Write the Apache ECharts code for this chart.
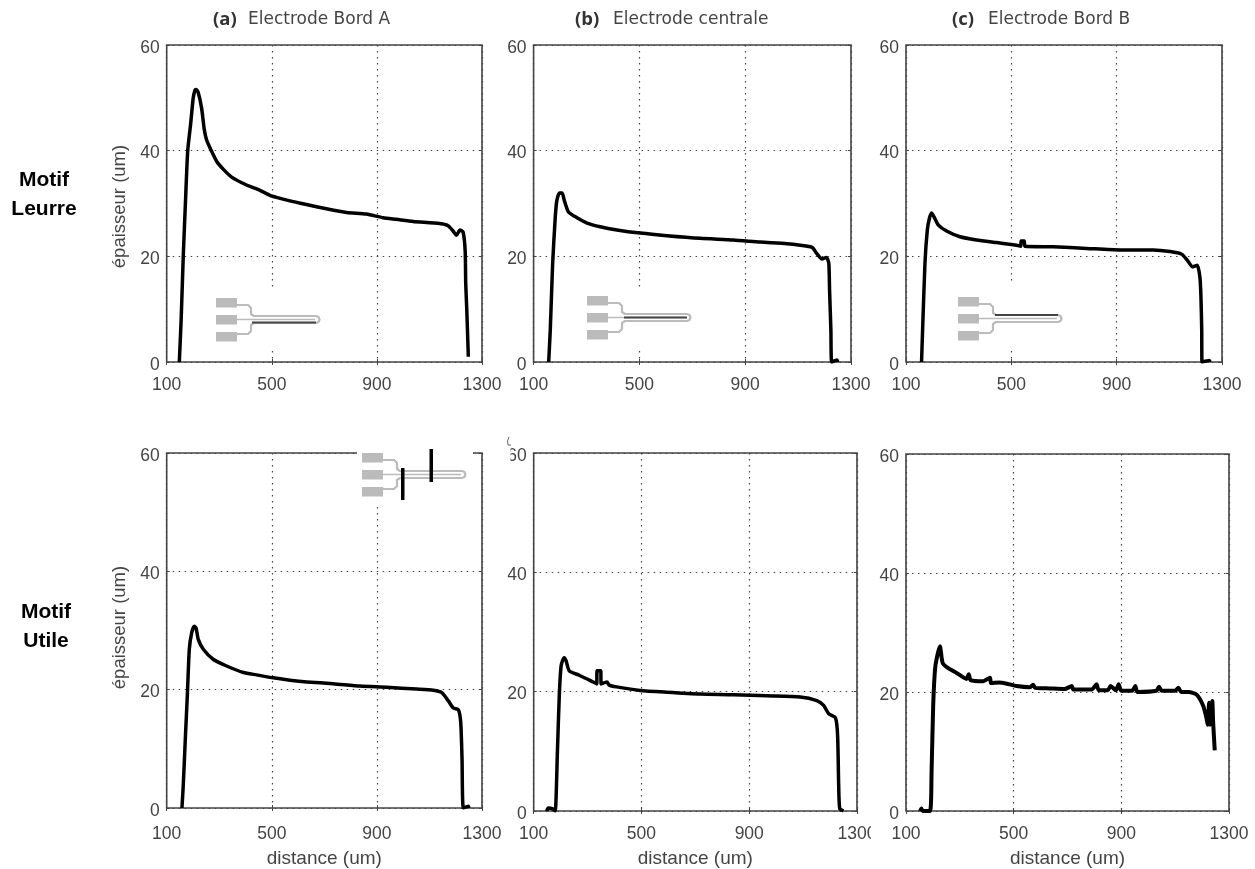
<!DOCTYPE html>
<html><head><meta charset="utf-8">
<style>html,body{margin:0;padding:0;background:#fff}#c{width:1255px;height:869px}</style>
<script src="https://cdn.jsdelivr.net/npm/echarts@6/dist/echarts.min.js"></script>
</head><body><div id="c"></div>
<script>
var xTicks = [100, 500, 900, 1300];
var yTicks = [0, 20, 40, 60];
var xLabel = 'distance (um)';
var yLabel = 'épaisseur (um)';
var columnTags = ['(a)', '(b)', '(c)'];
var columnNames = ['Electrode Bord A', 'Electrode centrale', 'Electrode Bord B'];
var rowNames = [['Motif', 'Leurre'], ['Motif', 'Utile']];

var leurreA = [[148,0],[155,8],[163,20],[172,31],[180,40],[191,45],[201,50],[208,51.5],[212,51.6],[220,51],[233,48],[243,44],[252,42],[265,40.5],[290,38],[315,36.5],[347,35],[404,33.5],[455,32.5],[495,31.5],[569,30.5],[632,29.8],[708,29],[785,28.3],[860,28],[924,27.3],[974,27],[1038,26.6],[1139,26.2],[1171,25.8],[1190,24.8],[1203,24],[1216,25],[1228,24.6],[1236,21],[1238,15],[1242,10],[1246,4],[1248,1]];
var leurreB = [[157,0],[163,6],[172,18.6],[182,27.5],[188,30.6],[198,32],[208,32],[216,30.6],[232,28.4],[264,27.3],[302,26.3],[352,25.6],[415,25],[503,24.4],[604,23.9],[730,23.4],[856,23.1],[957,22.7],[1058,22.4],[1108,22.1],[1153,21.7],[1171,20.5],[1190,19.5],[1207,19.8],[1216,18.7],[1219,13.6],[1224,6],[1227,0],[1247,0.4],[1250,0]];
var leurreC = [[159,0],[163,6],[172,18.7],[181,25],[189,27.2],[197,28.2],[206,27.5],[223,25.9],[254,24.8],[305,23.7],[368,23.1],[444,22.6],[520,22.1],[536,21.9],[537,22.9],[549,22.9],[552,21.9],[659,21.8],[786,21.5],[913,21.2],[1039,21.2],[1103,20.9],[1147,20.4],[1166,19.4],[1189,18],[1206,18.3],[1216,16.1],[1220,12.4],[1223,6],[1224,0],[1252,0.3],[1255,0]];
var utileA = [[158,0],[163,3.8],[172,12.8],[179,19.5],[186,26.8],[195,29.6],[205,30.7],[212,30.4],[220,28.5],[240,26.8],[278,25.1],[328,24],[392,22.9],[442,22.5],[506,22],[569,21.6],[633,21.3],[734,21],[836,20.6],[937,20.4],[1051,20.1],[1115,19.9],[1147,19.5],[1172,18.1],[1191,16.9],[1210,16.6],[1219,14.5],[1224,8.3],[1229,0],[1248,0.3],[1250,0]];
var utileB = [[148,0],[154,0.5],[173,0.3],[180,0],[188,9.9],[195,19.4],[202,24.4],[213,25.7],[220,25.2],[232,23.5],[266,22.8],[309,21.9],[334,21.3],[335,23.5],[349,23.5],[350,21.3],[372,21.6],[380,21.1],[408,20.8],[495,20.2],[594,19.9],[718,19.6],[842,19.5],[966,19.3],[1089,19.1],[1151,18.5],[1176,17.7],[1195,16.3],[1220,15.6],[1228,12.7],[1232,4.3],[1236,0.4],[1250,0]];
var utileC = [[152,0],[157,0.4],[162,0],[189,0],[195,6.6],[201,17.7],[209,24.3],[226,27.7],[236,24.9],[257,24],[288,23.2],[325,22.2],[333,23],[340,22],[387,21.8],[412,22.4],[416,21.5],[449,21.6],[511,21],[560,20.8],[572,21.2],[580,20.7],[634,20.6],[690,20.5],[716,21],[722,20.4],[790,20.4],[808,21.3],[816,20.3],[850,20.3],[860,21],[880,20.3],[890,21.3],[900,20.2],[940,20.2],[952,21],[960,20],[1030,20.2],[1040,20.9],[1050,20.2],[1100,20.2],[1112,20.7],[1122,20],[1150,20],[1179,19.6],[1204,17.7],[1216,15.7],[1221,14.5],[1226,18.2],[1230,14.5],[1238,18.5],[1241,15],[1247,10.2]];

var seriesData = [leurreA, leurreB, leurreC, utileA, utileB, utileC];
var boxes = [[166.7,45,482,362],[533.6,45,851,362],[906,45,1222,362],[166.7,453,482,809.5],[533.7,453,857,813],[906,454,1229,813]];
var ink = '#444', font = 'Liberation Sans', tickSize = 17.5;

var grid=[], xAxis=[], yAxis=[], series=[], g=[];
boxes.forEach(function(b,i){
  grid.push({show:true,left:b[0],top:b[1],width:b[2]-b[0],height:b[3]-b[1],borderColor:'#444',borderWidth:1.6,backgroundColor:'#fff'});
  var splitStyle={show:true,lineStyle:{color:'#444',width:1.2,type:[1.5,4.5]}};
  xAxis.push({gridIndex:i,type:'value',min:xTicks[0],max:xTicks[3],interval:400,position:'bottom',
    axisLine:{show:false},axisTick:{show:true,inside:true,length:3,lineStyle:{color:'#444'}},splitLine:splitStyle,
    axisLabel:{color:ink,fontFamily:font,fontSize:tickSize,margin:i===3?17:14,hideOverlap:false,formatter:function(v){return String(v);}},
    name:i>=3?xLabel:'',nameLocation:'middle',nameGap:i===3?41:38,nameTextStyle:{color:ink,fontFamily:font,fontSize:19}});
  xAxis.push({gridIndex:i,type:'value',min:xTicks[0],max:xTicks[3],interval:400,position:'top',
    axisLine:{show:false},axisTick:{show:true,inside:true,length:3,lineStyle:{color:'#444'}},splitLine:{show:false},axisLabel:{show:false}});
  var hasY=(i%3===0);
  yAxis.push({gridIndex:i,type:'value',min:yTicks[0],max:yTicks[3],interval:20,position:'left',
    axisLine:{show:false},axisTick:{show:true,inside:true,length:3,lineStyle:{color:'#444'}},splitLine:splitStyle,
    axisLabel:{color:ink,fontFamily:font,fontSize:tickSize,margin:7,hideOverlap:false,verticalAlign:'top',lineHeight:6},
    name:hasY?yLabel:'',nameLocation:'middle',nameGap:hasY?37:0,nameTextStyle:{color:ink,fontFamily:font,fontSize:18.5,padding:i===0?[0,6,0,0]:[0,0,0,6]}});
  yAxis.push({gridIndex:i,type:'value',min:yTicks[0],max:yTicks[3],interval:20,position:'right',
    axisLine:{show:false},axisTick:{show:true,inside:true,length:3,lineStyle:{color:'#444'}},splitLine:{show:false},axisLabel:{show:false}});
  series.push({type:'line',xAxisIndex:2*i,yAxisIndex:2*i,data:seriesData[i],showSymbol:false,animation:false,silent:true,
    smooth:0.2,lineStyle:{color:'#000',width:i===5?4:3.5,join:'round'},z:3,clip:true});
});

function rect(x,y,w,h,fill,z){g.push({type:'rect',shape:{x:x,y:y,width:w,height:h},style:{fill:fill},z:z||1,silent:true});}
function poly(pts,color,w){g.push({type:'polyline',shape:{points:pts},style:{stroke:color,lineWidth:w,fill:null,lineJoin:'round'},z:1,silent:true});}
function text(t,x,y,size,bold,align,color,family){g.push({type:'text',x:x,y:y,z:5,silent:true,style:{text:t,font:(bold?'bold ':'')+size+'px "'+(family||font)+'"',fill:color||ink,textAlign:align||'center',textVerticalAlign:'middle'}});}

function inset(ox,oy,mode){
  var P='#bbbbbb';
  rect(ox,oy,21,9.5,P); rect(ox,oy+17,21,9.5,P); rect(ox,oy+34,21,9.5,P);
  poly([[ox+21,oy+7],[ox+32,oy+7],[ox+35,oy+10],[ox+35,oy+16],[ox+38,oy+18],[ox+100,oy+18],[ox+102.5,oy+19],[ox+103.5,oy+21.5],[ox+102.5,oy+24],[ox+100,oy+25],[ox+38,oy+25],[ox+35,oy+27],[ox+35,oy+33],[ox+32,oy+36],[ox+21,oy+36]],P,2.2);
  poly([[ox+21,oy+21.5],[ox+99,oy+21.5]],P,1.5);
  if(mode===0)poly([[ox+36,oy+24.5],[ox+100,oy+24.5]],'#444',2);
  if(mode===1)poly([[ox+37,oy+21.5],[ox+100,oy+21.5]],'#444',2);
  if(mode===2)poly([[ox+37,oy+18],[ox+100,oy+18]],'#444',2);
}
// white backings of the pasted schematics
rect(212,290,112,58,'#fff'); rect(582,290,113,58,'#fff'); rect(950,283,115,65,'#fff'); rect(357,445,116,58,'#fff');
inset(216,298,0); inset(587,296,1); inset(958,297,2); inset(362,453,3);
rect(401,468,3.5,32,'#000'); rect(429.5,449,3.5,33,'#000');

// parts cut off by the neighbouring pasted panels
rect(497,445,13.5,27,'#fff',6);
rect(497,472,10.5,250,'#fff',6);
rect(871,826,12,24,'#fff',6);
g.push({type:'polyline',shape:{points:[[509,437],[507.5,441],[508,445],[511,445]]},style:{stroke:'#666',lineWidth:1,fill:null},z:7,silent:true});

var tagX=[213,575,952], nameX=[248,613,988];
columnTags.forEach(function(t,i){
  text(t,tagX[i],20,18.5,true,'left','#333','Open Sans');
  text(columnNames[i],nameX[i],20,17,false,'left',ink,'DejaVu Sans');
});
text(rowNames[0][0],44,180,21,true,'center','#000');
text(rowNames[0][1],44,209,21,true,'center','#000');
text(rowNames[1][0],46,612,21,true,'center','#000');
text(rowNames[1][1],46,641,21,true,'center','#000');

var chart=echarts.init(document.getElementById('c'),null,{renderer:'canvas'});
chart.setOption({animation:false,backgroundColor:'#fff',grid:grid,xAxis:xAxis,yAxis:yAxis,series:series,graphic:{elements:g}});
</script></body></html>
